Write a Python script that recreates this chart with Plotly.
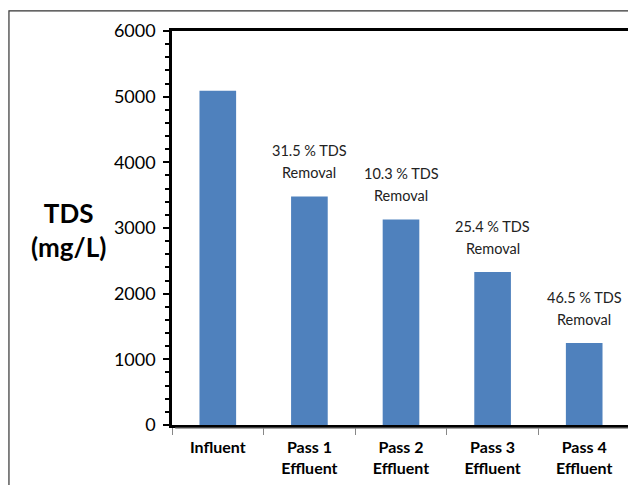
import plotly.graph_objects as go

categories = ["Influent", "Pass 1<br>Effluent", "Pass 2<br>Effluent", "Pass 3<br>Effluent", "Pass 4<br>Effluent"]
tds_values = [5090, 3480, 3130, 2330, 1250]
removal_pct = [None, "31.5", "10.3", "25.4", "46.5"]
y_ticks = [0, 1000, 2000, 3000, 4000, 5000, 6000]

FONT = "Lato, 'Open Sans', sans-serif"

fig = go.Figure()
fig.add_trace(go.Bar(x=categories, y=tds_values, marker=dict(color="#4F81BD", line=dict(width=0)),
                     width=0.4, hoverinfo="skip"))

for cat, val, pct in zip(categories, tds_values, removal_pct):
    if pct:
        fig.add_annotation(x=cat, y=val, text="Removal", showarrow=False, yanchor="bottom", yshift=13,
                           font=dict(family=FONT, size=14.5, color="#222"))
        fig.add_annotation(x=cat, y=val, text=f"{pct} % TDS", showarrow=False, yanchor="bottom", yshift=35,
                           font=dict(family=FONT, size=14.5, color="#222"))

fig.add_annotation(xref="paper", yref="paper", x=-0.225, y=0.495, text="<b>TDS<br>(mg/L)</b>",
                   showarrow=False, font=dict(family=FONT, size=26, color="black"),
                   xanchor="center", yanchor="middle")

# outer chart border
fig.add_shape(type="rect", xref="paper", yref="paper", x0=-0.356, x1=1.2, y0=-0.5, y1=1.051,
              line=dict(color="#333", width=1.2), layer="below")
# grey category axis line
fig.add_shape(type="line", xref="paper", yref="paper", x0=0.007, x1=1.0, y0=-0.008, y1=-0.008,
              line=dict(color="#888", width=1.2))

fig.update_layout(
    width=636, height=485,
    margin=dict(l=164, r=14, t=23, b=68),
    plot_bgcolor="white", paper_bgcolor="white",
    showlegend=False,
    font=dict(family=FONT, color="black"),
    xaxis=dict(showline=True, linecolor="black", linewidth=2.5, mirror=True,
               ticks="outside", tickson="boundaries", ticklen=7, tickcolor="#888", tickwidth=1,
               tickfont=dict(family=FONT, size=16, color="black"), showgrid=False,
               ticklabelstandoff=6,
               tickprefix="<b>", ticksuffix="</b>"),
    yaxis=dict(range=[0, 6000], tickvals=y_ticks, showline=True, linecolor="black", linewidth=2.5,
               mirror=True, ticks="outside", ticklen=6, tickwidth=2, tickcolor="black",
               minor=dict(dtick=200, ticks="outside", ticklen=4, tickwidth=2, tickcolor="black"),
               showgrid=False, zeroline=False, ticklabelstandoff=4,
               tickfont=dict(family=FONT, size=18, color="black")),
)

fig.write_html("out.html")
